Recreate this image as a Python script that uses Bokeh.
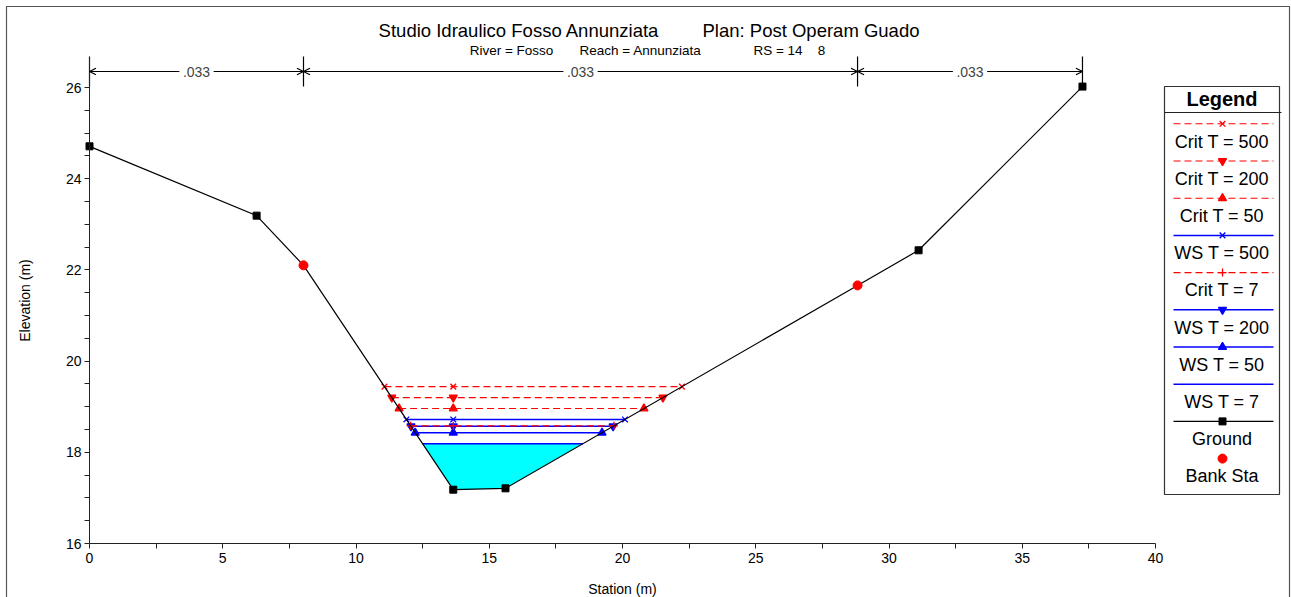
import numpy as np
from bokeh.plotting import figure
from bokeh.models import (Range1d, LinearAxis, FixedTicker, ColumnDataSource,
                          Arrow, OpenHead, LabelSet)
from bokeh.core.properties import value
from bokeh.embed import file_html
from bokeh.resources import INLINE

# ---------------- data ----------------
station = [0.0, 6.27, 8.03, 13.65, 15.61, 28.82, 31.11, 37.26]
elevation = [24.71, 23.19, 22.10, 17.18, 17.21, 21.66, 22.43, 26.02]
bank_station = [8.03, 28.82]
bank_elevation = [22.10, 21.66]

profile_names = ["Crit T = 500", "Crit T = 200", "Crit T = 50", "WS T = 500",
                 "Crit T = 7", "WS T = 200", "WS T = 50", "WS T = 7"]
profile_levels = [19.44, 19.20, 18.96, 18.72, 18.58, 18.57, 18.43, 18.19]
marker_mid_station = 13.65

n_breaks = [0.0, 8.03, 28.82, 37.26]
n_values = [".033", ".033", ".033"]

x_ticks = [0, 5, 10, 15, 20, 25, 30, 35, 40]
y_ticks = [16, 18, 20, 22, 24, 26]

title_parts = ["Studio Idraulico Fosso Annunziata", "Plan: Post Operam Guado"]
subtitle_parts = ["River = Fosso", "Reach = Annunziata", "RS = 14", "8"]

# ---------------- styles ----------------
profile_markers = ["x", "inverted_triangle", "triangle", "x", "cross",
                   "inverted_triangle", "triangle", None]
FONT = value("Liberation Sans")
RED = "#FF0000"
BLUE = "#0000FF"

# ---------------- layout (page pixels) ----------------
W, H = 1291, 597
X0_PX, X40_PX = 89, 1155                          # station 0 / 40
Y16_PX, Y26_PX = 543, 87                          # elevation 16 / 26
AXIS_TOP_PX = 57
PXX = (X40_PX - X0_PX) / 40.0
PXY = (Y16_PX - Y26_PX) / 10.0

p = figure(width=W, height=H, output_backend="svg", toolbar_location=None,
           x_range=Range1d(-X0_PX / PXX, (W - X0_PX) / PXX),
           y_range=Range1d(16 - (H - Y16_PX) / PXY, 16 + Y16_PX / PXY),
           x_axis_type=None, y_axis_type=None,
           min_border_left=0, min_border_right=0, min_border_top=0, min_border_bottom=0)
p.outline_line_color = None
p.background_fill_color = "white"
p.border_fill_color = "white"
p.extra_x_ranges = {"px": Range1d(0, W)}
p.extra_y_ranges = {"py": Range1d(H, 0)}

# outer border of the picture
p.quad(left=[6], right=[1289], top=[6], bottom=[H + 20], x_range_name="px", y_range_name="py",
       fill_color=None, line_color="#555555", line_width=1.2)

# axes (fixed at station 0 / elevation 16)
x_minor = [(a + b) / 2 for a, b in zip(x_ticks[:-1], x_ticks[1:])]
y_minor = [float(v) for v in np.arange(16.5, 26.0, 0.5) if v not in y_ticks]
xaxis = LinearAxis(ticker=FixedTicker(ticks=x_ticks, minor_ticks=x_minor),
                   bounds=(0, 40), axis_label="Station (m)", fixed_location=16)
yaxis = LinearAxis(ticker=FixedTicker(ticks=y_ticks, minor_ticks=y_minor),
                   bounds=(16, 16 + (Y16_PX - AXIS_TOP_PX) / PXY),
                   axis_label="Elevation (m)", fixed_location=0)
for ax in (xaxis, yaxis):
    ax.axis_line_color = "#222222"
    ax.major_tick_line_color = "#222222"
    ax.minor_tick_line_color = "#222222"
    ax.major_tick_in = 0
    ax.minor_tick_in = 0
    ax.major_tick_out = 5
    ax.minor_tick_out = 5
    ax.major_label_text_font = "Liberation Sans"
    ax.major_label_text_font_size = "14px"
    ax.major_label_text_color = "black"
    ax.axis_label_text_font = "Liberation Sans"
    ax.axis_label_text_font_size = "14px"
    ax.axis_label_text_font_style = "normal"
    ax.axis_label_text_color = "black"
xaxis.major_label_standoff = 4
xaxis.axis_label_standoff = 15
yaxis.major_label_standoff = 3
yaxis.axis_label_standoff = 30
p.add_layout(xaxis, "below")
p.add_layout(yaxis, "left")


def crossings(level):
    xs = []
    for i in range(len(station) - 1):
        e0, e1 = elevation[i], elevation[i + 1]
        if (e0 - level) * (e1 - level) <= 0 and e0 != e1:
            xs.append(station[i] + (level - e0) * (station[i + 1] - station[i]) / (e1 - e0))
    return xs[0], xs[-1]


def prof_style(name):
    if name.startswith("Crit"):
        return dict(line_color=RED, line_dash="7 4", line_width=1.1)
    return dict(line_color=BLUE, line_width=1.5)


# water fill below the lowest water surface
ws7 = profile_levels[profile_names.index("WS T = 7")]
xl, xr = crossings(ws7)
fill_x = [xl] + [s for s, e in zip(station, elevation) if e < ws7] + [xr]
fill_y = [ws7] + [e for e in elevation if e < ws7] + [ws7]
p.patch(fill_x, fill_y, fill_color="#00FFFF", line_color=None)

# water surface / critical lines (draw lowest-priority first)
order = list(range(len(profile_names)))[::-1]
for i in order:
    name, lvl, mk = profile_names[i], profile_levels[i], profile_markers[i]
    a, b = crossings(lvl)
    st = prof_style(name)
    p.line([a, b], [lvl, lvl], **st)
    if mk:
        col = st["line_color"]
        p.scatter([a, marker_mid_station, b], [lvl, lvl, lvl], marker=mk, size=8,
                  line_color=col, fill_color=col, line_width=1.3)

# ground
p.line(station, elevation, line_color="black", line_width=1.2)
gx = [s for s in station if s not in bank_station]
gy = [e for s, e in zip(station, elevation) if s not in bank_station]
p.scatter(gx, gy, marker="square", size=7, color="black")
p.scatter(bank_station, bank_elevation, marker="circle", size=9, color=RED)

# Manning's n bar
p.segment(x0=n_breaks, y0=[56] * len(n_breaks), x1=n_breaks, y1=[86] * len(n_breaks),
          y_range_name="py", line_color="black", line_width=1.2)
nsrc = ColumnDataSource(dict(xs=n_breaks[:-1], xe=n_breaks[1:],
                             xm=[(a + b) / 2 for a, b in zip(n_breaks[:-1], n_breaks[1:])],
                             y=[71] * len(n_values), n=n_values))
p.add_layout(Arrow(start=OpenHead(size=6.5, line_width=1.2), end=OpenHead(size=6.5, line_width=1.2),
                   x_start="xs", x_end="xe", y_start="y", y_end="y", source=nsrc,
                   y_range_name="py", line_width=1, line_color="black"))
p.add_layout(LabelSet(x="xm", y="y", text="n", source=nsrc, y_range_name="py",
                      text_align="center", text_baseline="middle", text_font=FONT,
                      text_font_size="14px", background_fill_color="white",
                      border_line_color="white", border_line_width=7))

# titles
p.text(x=[518.5, 810.5], y=[29.5, 29.5], text=title_parts, x_range_name="px", y_range_name="py",
       text_align="center", text_baseline="alphabetic", text_font=FONT,
       text_font_size="18.5px", text_color="black")
p.text(x=[511, 640, 777.5, 821], y=[50] * 4, text=subtitle_parts, x_range_name="px",
       y_range_name="py", text_align="center", text_baseline="alphabetic", text_font=FONT,
       text_font_size="13.5px", text_color="black")

# legend (drawn in page-pixel coordinates)
LG_L, LG_R, LG_T, LG_B = 1164, 1279, 86, 494
LG_CX = (LG_L + LG_R) / 2
p.quad(left=[LG_L], right=[LG_R], top=[LG_T], bottom=[LG_B], x_range_name="px",
       y_range_name="py", fill_color="white", line_color="#333333", line_width=1.2)
p.segment(x0=[LG_L], y0=[112], x1=[LG_R + 2], y1=[112], x_range_name="px", y_range_name="py",
          line_color="#222222", line_width=1.2)
p.text(x=[LG_CX], y=[98], text=["Legend"], x_range_name="px", y_range_name="py",
       text_align="center", text_baseline="middle", text_font=FONT, text_font_size="20px",
       text_font_style="bold", text_color="black")
ROW0_LINE, ROW0_TEXT, ROW_STEP = 123.3, 141.0, 37.2
rows = profile_names + ["Ground", "Bank Sta"]
for i, name in enumerate(rows):
    ly = ROW0_LINE + ROW_STEP * i
    ty = ROW0_TEXT + ROW_STEP * i
    if name in profile_names:
        j = profile_names.index(name)
        st = prof_style(name)
        p.line([1173, 1273], [ly, ly], x_range_name="px", y_range_name="py", **st)
        if profile_markers[j]:
            col = st["line_color"]
            p.scatter([1222], [ly], marker=profile_markers[j], size=8, line_color=col,
                      fill_color=col, line_width=1.3, x_range_name="px", y_range_name="py")
    elif name == "Ground":
        p.line([1173, 1273], [ly, ly], x_range_name="px", y_range_name="py",
               line_color="black", line_width=1.2)
        p.scatter([1222], [ly], marker="square", size=7, color="black",
                  x_range_name="px", y_range_name="py")
    else:
        p.scatter([1222], [ly], marker="circle", size=9, color=RED,
                  x_range_name="px", y_range_name="py")
    p.text(x=[LG_CX], y=[ty], text=[name], x_range_name="px", y_range_name="py",
           text_align="center", text_baseline="middle", text_font=FONT,
           text_font_size="18px", text_color="black")

open("out.html", "w").write(file_html(p, INLINE))
